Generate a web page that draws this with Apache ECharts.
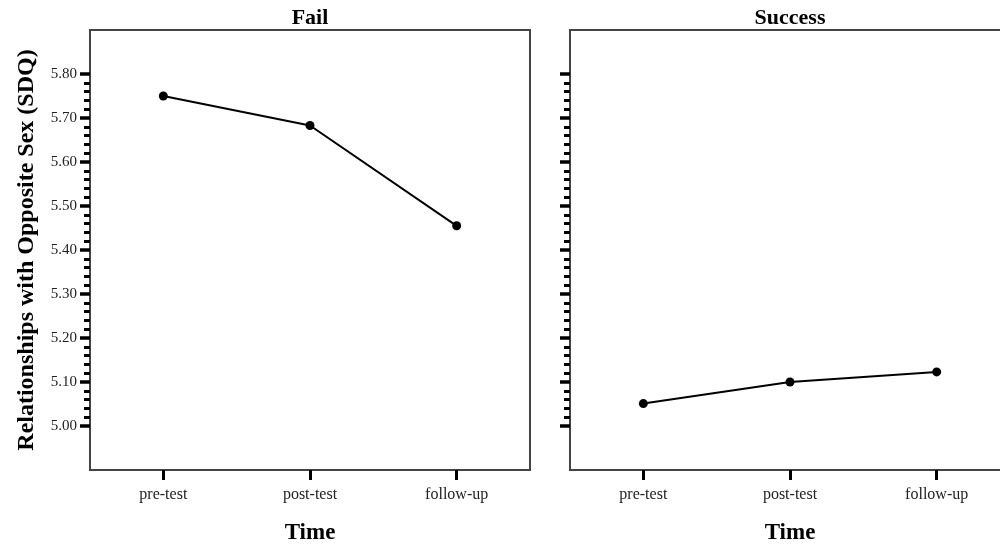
<!DOCTYPE html>
<html>
<head>
<meta charset="utf-8">
<script src="https://cdn.jsdelivr.net/npm/echarts@6/dist/echarts.min.js"></script>
<style>
html,body{margin:0;padding:0;background:#fff;}
#chart{width:1000px;height:546px;}
</style>
</head>
<body>
<div id="chart"></div>
<script>
var categories = ['pre-test', 'post-test', 'follow-up'];
var panelTitles = ['Fail', 'Success'];
var failValues = [5.75, 5.683, 5.455];
var successValues = [5.051, 5.10, 5.123];
var majorTicks = [5.00, 5.10, 5.20, 5.30, 5.40, 5.50, 5.60, 5.70, 5.80];
var minorTicks = [];
for (var i = 0; i < majorTicks.length - 1; i++) {
  for (var k = 1; k < 5; k++) {
    minorTicks.push(+(majorTicks[i] + k * 0.02).toFixed(2));
  }
}
var yTitle = 'Relationships with Opposite Sex (SDQ)';
var xTitle = 'Time';
var FONT = "'Liberation Serif', 'DejaVu Serif', serif";

var chart = echarts.init(document.getElementById('chart'), null, {renderer: 'canvas'});

var grids = [
  {left: 90, top: 30, width: 440, height: 440},
  {left: 570, top: 30, width: 440, height: 440}
];

function xAxisFor(idx) {
  return {
    type: 'category', gridIndex: idx, data: categories, boundaryGap: true,
    axisLine: {show: false},
    axisTick: {show: true, alignWithLabel: true, length: 10, lineStyle: {color: '#000', width: 3}},
    axisLabel: {fontFamily: FONT, fontSize: 16, color: '#222', margin: 17},
    splitLine: {show: false},
    name: xTitle, nameLocation: 'middle', nameGap: 52,
    nameTextStyle: {fontFamily: FONT, fontSize: 23, fontWeight: 'bold', color: '#000'}
  };
}
function yMajor(idx, showLabels) {
  var ax = {
    type: 'value', gridIndex: idx, min: 4.9, max: 5.9, interval: 0.1, position: 'left',
    axisLine: {show: false},
    axisTick: {show: true, customValues: majorTicks, length: 10, lineStyle: {color: '#000', width: 3.5}},
    axisLabel: {show: showLabels, customValues: majorTicks, margin: 13, fontFamily: FONT, fontSize: 15, color: '#222',
      formatter: function (v) { return v.toFixed(2); }},
    splitLine: {show: false}
  };
  if (showLabels) {
    ax.name = yTitle;
    ax.nameLocation = 'middle';
    ax.nameGap = 51;
    ax.nameTextStyle = {fontFamily: FONT, fontSize: 24, fontWeight: 'bold', color: '#000'};
  }
  return ax;
}
function yMinor(idx) {
  return {
    type: 'value', gridIndex: idx, min: 4.9, max: 5.9, interval: 0.1, position: 'left', offset: 0,
    axisLine: {show: false},
    axisTick: {show: true, customValues: minorTicks, length: 6, lineStyle: {color: '#000', width: 3}},
    axisLabel: {show: false},
    splitLine: {show: false}
  };
}

var option = {
  animation: false,
  backgroundColor: '#fff',
  grid: grids.map(function (g) {
    return Object.assign({show: true, borderColor: '#444', borderWidth: 2, backgroundColor: 'transparent',
      containLabel: false, outerBoundsMode: 'none'}, g);
  }),
  xAxis: [xAxisFor(0), xAxisFor(1)],
  yAxis: [yMajor(0, true), yMinor(0), yMajor(1, false), yMinor(1)],
  graphic: panelTitles.map(function (t, i) {
    return {
      type: 'text', x: grids[i].left + grids[i].width / 2, y: 18,
      style: {text: t, font: 'bold 22px ' + FONT, fill: '#000', textAlign: 'center', textVerticalAlign: 'middle'}
    };
  }),
  series: [
    {type: 'line', xAxisIndex: 0, yAxisIndex: 0, data: failValues, symbol: 'circle', symbolSize: 9,
      lineStyle: {color: '#000', width: 2}, itemStyle: {color: '#000'}, clip: false},
    {type: 'line', xAxisIndex: 1, yAxisIndex: 2, data: successValues, symbol: 'circle', symbolSize: 9,
      lineStyle: {color: '#000', width: 2}, itemStyle: {color: '#000'}, clip: false}
  ]
};
chart.setOption(option);
</script>
</body>
</html>
